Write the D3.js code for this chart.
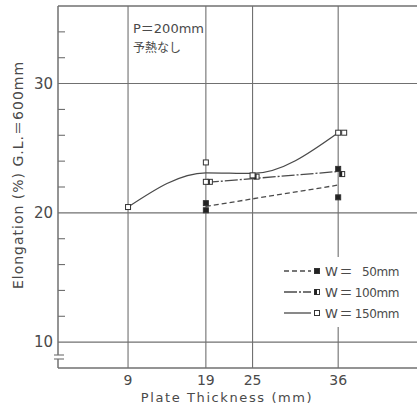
<!DOCTYPE html>
<html>
<head>
<meta charset="utf-8">
<script src="https://cdn.jsdelivr.net/npm/d3@7"></script>
<style>
  body { margin: 0; background: #fff; }
  svg { display: block; font-family: 'DejaVu Sans', 'Noto Sans CJK JP', sans-serif; }
</style>
</head>
<body>
<svg id="chart" width="417" height="408"></svg>
<script>
// plate thickness categories (mm) and y ticks
const thicknessTicks = [9, 19, 25, 36];
const elongTicks = [10, 20, 30];

// measured specimens [thickness, elongation %]
const w50Points = [[19, 20.75], [19, 20.2], [36, 23.4], [36, 21.2]];
const w100Points = [[19, 22.4], [25, 22.8], [36, 23.0]];
const w150Points = [[9, 20.45], [19, 23.9], [19, 22.4], [25, 22.9], [36, 26.2], [36, 26.2]];

// trend lines drawn through the results
const w50Line = [[19, 20.5], [36, 22.15]];
const w100Line = [[19, 22.35], [36, 23.2]];
const w150Line = [[9, 20.45], [19, 23.1], [25, 23.05], [36, 26.2]];

const legendLabels = ['50mm', '100mm', '150mm'];

const ink = '#4a4a4a';
const grid = '#707070';

const svg = d3.select('#chart');
const plotLeft = 58, plotTop = 6, plotBottom = 368;

const x = d3.scaleLinear().domain([0, 46]).range([plotLeft, 416]);
const y = d3.scaleLinear().domain([8, 36]).range([plotBottom, plotTop]);

// frame
svg.append('line').attr('x1', plotLeft).attr('x2', 417).attr('y1', plotTop).attr('y2', plotTop)
  .attr('stroke', grid).attr('stroke-width', 1.3);
svg.append('line').attr('x1', plotLeft).attr('x2', 417).attr('y1', plotBottom).attr('y2', plotBottom)
  .attr('stroke', grid).attr('stroke-width', 1.5);
svg.append('line').attr('x1', plotLeft).attr('x2', plotLeft).attr('y1', plotTop).attr('y2', plotBottom)
  .attr('stroke', grid).attr('stroke-width', 1.5);

// grid lines
svg.append('g').selectAll('line').data(elongTicks).join('line')
  .attr('x1', plotLeft).attr('x2', 417)
  .attr('y1', d => y(d)).attr('y2', d => y(d))
  .attr('stroke', grid).attr('stroke-width', 1.1);
svg.append('g').selectAll('line').data(thicknessTicks).join('line')
  .attr('x1', d => x(d)).attr('x2', d => x(d))
  .attr('y1', plotTop).attr('y2', plotBottom)
  .attr('stroke', grid).attr('stroke-width', 1.1);

// minor y ticks every 2 %
const minor = d3.range(12, 36, 2).filter(d => !elongTicks.includes(d));
svg.append('g').selectAll('line').data(minor).join('line')
  .attr('x1', plotLeft).attr('x2', plotLeft + 7)
  .attr('y1', d => y(d)).attr('y2', d => y(d))
  .attr('stroke', grid).attr('stroke-width', 1.1);

// axis break
svg.append('rect').attr('x', plotLeft - 2).attr('y', 355).attr('width', 4).attr('height', 4).attr('fill', '#fff');
[355, 359].forEach(v => {
  svg.append('line').attr('x1', plotLeft - 4).attr('x2', plotLeft + 6).attr('y1', v).attr('y2', v)
    .attr('stroke', grid).attr('stroke-width', 1.1);
});

// tick labels
svg.append('g').selectAll('text').data(elongTicks).join('text')
  .attr('x', 53).attr('y', d => y(d) + 5)
  .attr('text-anchor', 'end').attr('font-size', 15).attr('fill', ink)
  .text(d => d);
svg.append('g').selectAll('text').data(thicknessTicks).join('text')
  .attr('x', d => x(d)).attr('y', 385)
  .attr('text-anchor', 'middle').attr('font-size', 14).attr('fill', ink)
  .text(d => d);

// axis titles
svg.append('text')
  .attr('x', 227).attr('y', 402)
  .attr('text-anchor', 'middle').attr('font-size', 13).attr('letter-spacing', 1.6)
  .attr('fill', ink)
  .text('Plate Thickness (mm)');
svg.append('text')
  .attr('transform', 'translate(23,175) rotate(-90)')
  .attr('text-anchor', 'middle').attr('font-size', 14).attr('letter-spacing', 1)
  .attr('fill', ink)
  .text('Elongation (%)  G.L.＝600mm');

// annotation
svg.append('text').attr('x', 133).attr('y', 33).attr('font-size', 13).attr('fill', ink)
  .text('P＝200mm');
svg.append('text').attr('x', 133).attr('y', 52).attr('font-size', 12).attr('fill', ink)
  .attr('font-family', 'Noto Sans CJK JP').text('予熱なし');

// lines
const lineGen = d3.line().x(d => x(d[0])).y(d => y(d[1]));
const series = [
  { line: w50Line, points: w50Points, dash: '5,3', curve: d3.curveLinear, kind: 'filled', nudge: 0 },
  { line: w100Line, points: w100Points, dash: '13,2,2,2', curve: d3.curveLinear, kind: 'half', nudge: 4 },
  { line: w150Line, points: w150Points, dash: null, curve: d3.curveMonotoneX, kind: 'open', nudge: 0 },
];

series.forEach(s => {
  svg.append('path')
    .attr('d', lineGen.curve(s.curve)(s.line))
    .attr('fill', 'none').attr('stroke', ink).attr('stroke-width', 1.3)
    .attr('stroke-dasharray', s.dash);
});

function marker(g, cx, cy, kind) {
  const sz = 5;
  g.append('rect').attr('x', cx - sz / 2).attr('y', cy - sz / 2)
    .attr('width', sz).attr('height', sz)
    .attr('fill', kind === 'filled' ? '#222' : '#fff')
    .attr('stroke', '#333').attr('stroke-width', 1);
  if (kind === 'half') {
    g.append('rect').attr('x', cx - sz / 2).attr('y', cy - sz / 2)
      .attr('width', sz / 2).attr('height', sz).attr('fill', '#222');
  }
}

const markers = svg.append('g');
series.forEach(s => {
  const seen = [];
  s.points.forEach(p => {
    const dup = seen.some(q => q[0] === p[0] && Math.abs(q[1] - p[1]) < 0.2);
    seen.push(p);
    marker(markers, x(p[0]) + s.nudge + (dup ? 6 : 0), y(p[1]), s.kind);
  });
});

// legend
const lg = svg.append('g');
lg.append('rect').attr('x', 280).attr('y', 257).attr('width', 125).attr('height', 70).attr('fill', '#fff');
const dashes = ['5,3', '13,2,2,2', null];
const kinds = ['filled', 'half', 'open'];
legendLabels.forEach((lab, i) => {
  const ly = 271 + i * 21;
  lg.append('line').attr('x1', 284).attr('x2', 311).attr('y1', ly).attr('y2', ly)
    .attr('stroke', ink).attr('stroke-width', 1.3).attr('stroke-dasharray', dashes[i]);
  marker(lg, 317, ly, kinds[i]);
  lg.append('text').attr('x', 325).attr('y', ly + 4.5).attr('font-size', 13).attr('fill', ink)
    .text('W');
  lg.append('text').attr('x', 346).attr('y', ly + 4.5).attr('font-size', 13).attr('fill', ink)
    .attr('text-anchor', 'middle').text('＝');
  lg.append('text').attr('x', 399).attr('y', ly + 4.5).attr('font-size', 12).attr('fill', ink)
    .attr('text-anchor', 'end').attr('letter-spacing', -0.4).text(lab);
});
</script>
</body>
</html>
